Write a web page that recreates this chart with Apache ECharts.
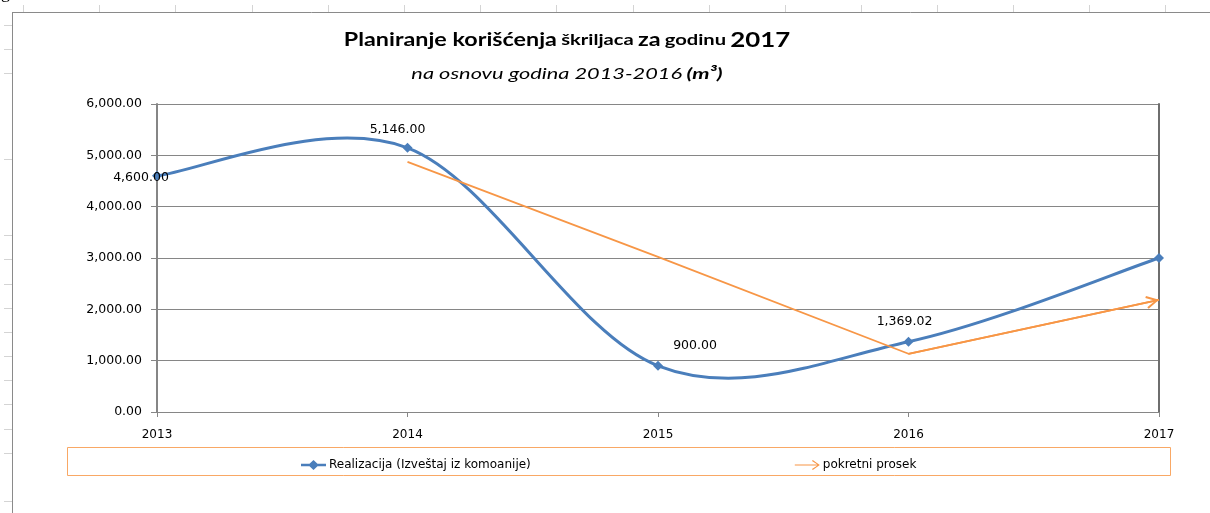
<!DOCTYPE html>
<html>
<head>
<meta charset="utf-8">
<script src="https://cdn.jsdelivr.net/npm/echarts@6/dist/echarts.min.js"></script>
<style>
  html, body { margin: 0; padding: 0; background: #fff; }
  #chart { width: 1210px; height: 513px; }
</style>
</head>
<body>
<div id="chart"></div>
<script>
// Years on the category axis
const years = ['2013', '2014', '2015', '2016', '2017'];
// Actual usage (m³)
const realizacija = [4600, 5146, 900, 1369.02, 3000];
// Two-year moving average (m³)
const pokretniProsek = [null, 4873, 3023, 1134.51, 2184.51];
// Value axis range
const yMin = 0;
const yMax = 6000;
const yStep = 1000;

const seriesNames = ['Realizacija (Izveštaj iz komoanije)', 'pokretni prosek'];

const BLUE = '#4A7EBB';
const ORANGE = '#F79646';
const AXIS_GRAY = '#868686';
const NUM_FONT = 'DejaVu Sans';

function fmt(v) {
  return v.toLocaleString('en-US', { minimumFractionDigits: 2, maximumFractionDigits: 2 });
}

// Where each value label sits relative to its marker
const labelOffsets = [[-16, 2], [-10, -18], [37, -20], [-4, -20], null];

const blueData = realizacija.map(function (v, i) {
  const off = labelOffsets[i];
  return {
    value: v,
    label: off ? { show: true, position: 'inside', offset: off } : { show: false }
  };
});

// Cardinal spline (Catmull-Rom, 1/6 control arms) through the projected points
function splinePath(pts) {
  let d = 'M' + pts[0][0] + ',' + pts[0][1];
  for (let i = 0; i < pts.length - 1; i++) {
    const p0 = pts[Math.max(i - 1, 0)];
    const p1 = pts[i];
    const p2 = pts[i + 1];
    const p3 = pts[Math.min(i + 2, pts.length - 1)];
    const c1x = p1[0] + (p2[0] - p0[0]) / 6;
    const c1y = p1[1] + (p2[1] - p0[1]) / 6;
    const c2x = p2[0] - (p3[0] - p1[0]) / 6;
    const c2y = p2[1] - (p3[1] - p1[1]) / 6;
    d += 'C' + c1x + ',' + c1y + ',' + c2x + ',' + c2y + ',' + p2[0] + ',' + p2[1];
  }
  return d;
}

// Open chevron arrow head; the empty sub-path moves the symbol centre onto the tip
const chevronUp = 'path://M5,0.2 L5.01,0.2 Z M5,10 L10,19 L8.6,19.8 L5,13 L1.4,19.8 L0,19 Z';
const arrowIcon = 'path://M0,4.4 L22.6,4.4 L17.2,1 L18,0 L25,5 L18,10 L17.2,9 L22.6,5.6 L0,5.6 Z';
const lineDiamondIcon = 'path://M0,3.8 L8.5,3.8 L12.5,0 L16.5,3.8 L25,3.8 L25,6.2 L16.5,6.2 L12.5,10 L8.5,6.2 L0,6.2 Z';

// Faint sheet ruler marks around the chart frame
const topTicks = [23, 99, 175, 252, 328, 404, 480, 556, 633, 709, 785, 861, 937, 1013, 1089, 1165];
const leftTicks = [25, 49, 73, 159, 235, 259, 284, 308, 332, 356, 380, 404, 429, 453, 501];

const graphics = [];
topTicks.forEach(function (x) {
  graphics.push({ type: 'line', silent: true, shape: { x1: x + 0.5, y1: 5, x2: x + 0.5, y2: 12 }, style: { stroke: '#d4d4d4', lineWidth: 1 } });
});
leftTicks.forEach(function (y) {
  graphics.push({ type: 'line', silent: true, shape: { x1: 4, y1: y + 0.5, x2: 12, y2: y + 0.5 }, style: { stroke: '#d4d4d4', lineWidth: 1 } });
});
graphics.push(
  { type: 'line', silent: true, shape: { x1: 12, y1: 12.5, x2: 1210, y2: 12.5 }, style: { stroke: '#8a8a8a', lineWidth: 1 } },
  { type: 'line', silent: true, shape: { x1: 12.5, y1: 12, x2: 12.5, y2: 513 }, style: { stroke: '#8a8a8a', lineWidth: 1 } },
  { type: 'text', silent: true, x: 1, y: -16, style: { text: 'g', font: '18px "Liberation Serif"', fill: '#000', verticalAlign: 'top' } },
  // legend frame
  { type: 'rect', silent: true, shape: { x: 67.5, y: 447.5, width: 1103, height: 28 }, style: { fill: 'none', stroke: '#F9A865', lineWidth: 1 } },
  // heading
  {
    type: 'text', silent: true, x: 567, y: 40, scaleX: 1.26,
    style: {
      text: '{a|Planiranje korišćenja} {b|škriljaca} {a|za} {b|godinu} {c|2017}',
      align: 'center', verticalAlign: 'middle',
      rich: {
        a: { fontFamily: 'Lato', fontWeight: 'bold', fontSize: 18.5, fill: '#000' },
        b: { fontFamily: 'Lato', fontWeight: 'bold', fontSize: 16, fill: '#000' },
        c: { fontFamily: 'Lato', fontWeight: 'bold', fontSize: 20.5, fill: '#000' }
      }
    }
  },
  {
    type: 'text', silent: true, x: 567, y: 74, scaleX: 1.36,
    style: {
      text: '{i|na osnovu godina 2013-2016} {j|(m³)}',
      align: 'center', verticalAlign: 'middle',
      rich: {
        i: { fontFamily: 'Lato', fontStyle: 'italic', fontWeight: 'normal', fontSize: 16, fill: '#000' },
        j: { fontFamily: 'Lato', fontStyle: 'italic', fontWeight: 'bold', fontSize: 16, fill: '#000' }
      }
    }
  }
);

const chart = echarts.init(document.getElementById('chart'), null, { renderer: 'canvas' });

chart.setOption({
  animation: false,
  backgroundColor: '#fff',
  legend: {
    left: 296,
    top: 454,
    itemWidth: 25,
    itemHeight: 10,
    itemGap: 264,
    textStyle: { fontFamily: 'DejaVu Sans', fontSize: 12, color: '#000', padding: [0, 0, 0, -2] },
    data: [
      { name: seriesNames[0], icon: lineDiamondIcon, itemStyle: { color: BLUE } },
      { name: seriesNames[1], icon: arrowIcon, itemStyle: { color: ORANGE } }
    ]
  },
  grid: { left: 157, right: 51, top: 104, bottom: 101, containLabel: false },
  xAxis: {
    type: 'category',
    data: years,
    boundaryGap: false,
    axisLine: { lineStyle: { color: AXIS_GRAY, width: 1 } },
    axisTick: { show: true, inside: false, length: 5, alignWithLabel: true, lineStyle: { color: AXIS_GRAY } },
    axisLabel: { fontFamily: NUM_FONT, fontSize: 12, color: '#000', margin: 17 },
    splitLine: { show: false }
  },
  yAxis: [
    {
      type: 'value',
      min: yMin,
      max: yMax,
      interval: yStep,
      axisLine: { show: true, lineStyle: { color: AXIS_GRAY, width: 2 } },
      axisTick: { show: true, length: 6, lineStyle: { color: AXIS_GRAY } },
      axisLabel: { fontFamily: NUM_FONT, fontSize: 12.5, color: '#000', margin: 15, formatter: fmt },
      splitLine: { show: true, lineStyle: { color: AXIS_GRAY, width: 1 } }
    },
    {
      type: 'value',
      position: 'right',
      min: yMin,
      max: yMax,
      interval: yStep,
      axisLine: { show: true, lineStyle: { color: '#6e6e6e', width: 2 } },
      axisTick: { show: false },
      axisLabel: { show: false },
      splitLine: { show: false }
    }
  ],
  series: [
    {
      // smooth curve of the actual usage
      type: 'custom',
      silent: true,
      data: [[0, realizacija[0]]],
      z: 2,
      renderItem: function (params, api) {
        const pts = realizacija.map(function (v, i) { return api.coord([i, v]); });
        return {
          type: 'path',
          shape: { pathData: splinePath(pts) },
          style: { stroke: BLUE, lineWidth: 3, fill: 'none', lineJoin: 'round', lineCap: 'round' }
        };
      }
    },
    {
      name: seriesNames[0],
      type: 'line',
      data: blueData,
      symbol: 'diamond',
      symbolSize: 10,
      lineStyle: { opacity: 0 },
      itemStyle: { color: BLUE },
      label: { fontFamily: NUM_FONT, fontSize: 12.5, color: '#000', formatter: function (p) { return fmt(p.value); } },
      z: 4
    },
    {
      name: seriesNames[1],
      type: 'line',
      data: pokretniProsek,
      symbol: 'none',
      lineStyle: { color: ORANGE, width: 1.8 },
      itemStyle: { color: ORANGE },
      z: 3,
      markLine: {
        silent: true,
        symbol: ['none', chevronUp],
        symbolSize: [13, 26],
        label: { show: false },
        lineStyle: { color: ORANGE, width: 1.8, type: 'solid' },
        data: [[
          { coord: [years[3], pokretniProsek[3]] },
          { coord: [years[4], pokretniProsek[4]] }
        ]]
      }
    }
  ],
  graphic: graphics
});
</script>
</body>
</html>
